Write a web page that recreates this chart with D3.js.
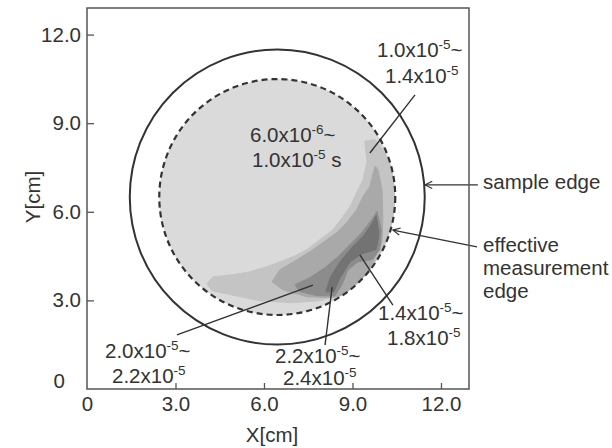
<!DOCTYPE html>
<html>
<head>
<meta charset="utf-8">
<script src="https://cdn.jsdelivr.net/npm/d3@7"></script>
<style>
  body { margin: 0; background: #fff; }
  svg { display: block; font-family: "Liberation Sans", Arial, sans-serif; }
  .tick text { fill: #333; font-size: 20.5px; }
  .ann { fill: #333; font-size: 20.5px; }
</style>
</head>
<body>
<svg width="612" height="448"></svg>
<script>
'use strict';

// axis ticks
var xTicks = [0, 3, 6, 9, 12];
var yTicks = [0, 3, 6, 9, 12];
var tickLabels = ['0', '3.0', '6.0', '9.0', '12.0'];

// sample edge / effective measurement edge (cm)
var circleCenter = [6.45, 6.5];
var sampleRadius = 5.0;
var effectiveRadius = 4.0;

// contour bands (relaxation time, s), outlines in cm
var bandNames = ['1.0-1.4e-5', '1.4-1.8e-5', '2.0-2.2e-5', '2.2-2.4e-5'];
var bandA = [[9.42, 8.39], [9.49, 7.67], [9.36, 7.10], [9.15, 6.66], [8.92, 6.18], [8.68, 5.84],
  [8.34, 5.40], [7.90, 5.06], [7.46, 4.72], [6.98, 4.48], [6.54, 4.31], [6.10, 4.14], [5.53, 3.97],
  [4.95, 3.87], [4.27, 3.80], [4.07, 3.57], [4.24, 3.33], [5.02, 3.16], [5.86, 2.99], [6.88, 2.92],
  [7.90, 2.99], [8.85, 3.29], [9.49, 3.70], [9.93, 4.21], [10.20, 4.89], [10.45, 5.74], [10.45, 6.59],
  [10.35, 7.44], [10.07, 8.05], [9.76, 8.45]];
var bandB = [[9.76, 7.54], [9.59, 6.86], [9.36, 6.52], [9.15, 6.08], [8.81, 5.64], [8.47, 5.30],
  [8.00, 4.96], [7.56, 4.65], [7.12, 4.38], [6.54, 4.04], [6.27, 3.63], [6.64, 3.36], [7.46, 3.12],
  [8.34, 3.09], [8.92, 3.26], [9.36, 3.70], [9.69, 4.28], [10.00, 4.96], [10.03, 5.84], [10.00, 6.76],
  [9.86, 7.44]];
var bandD = [[9.83, 6.01], [9.97, 5.40], [9.93, 4.72], [9.66, 4.38], [9.19, 4.31], [8.85, 4.04],
  [8.64, 3.53], [8.41, 3.16], [7.83, 3.16], [7.22, 3.29], [7.05, 3.53], [7.56, 3.77], [8.07, 4.11],
  [8.51, 4.48], [8.92, 4.89], [9.32, 5.30], [9.66, 5.74]];
var bandE = [[9.80, 5.87], [9.90, 5.23], [9.80, 4.72], [9.32, 4.58], [8.92, 4.31], [8.58, 3.77],
  [8.37, 3.29], [8.10, 3.29], [8.24, 3.77], [8.58, 4.31], [8.98, 4.79], [9.39, 5.20], [9.66, 5.60]];
var bands = [bandA, bandB, bandD, bandE];
var bandColors = ['#c4c4c4', '#a9a9a9', '#8c8c8c', '#737373'];

// leader lines [from, to] in cm
var leaders = [
  [[11.12, 9.96], [9.59, 7.99]],
  [[10.37, 2.84], [9.25, 4.54]],
  [[3.05, 1.83], [7.66, 3.52]],
  [[8.07, 1.49], [8.31, 3.45]]
];
var arrows = [
  [[13.25, 6.91], [11.46, 6.91]],
  [[13.22, 4.81], [10.37, 5.38]]
];

var svg = d3.select('svg');
var x = d3.scaleLinear().domain([0, 12.95]).range([87, 469]);
var y = d3.scaleLinear().domain([0, 12.9]).range([389, 8]);
var rpx = function (r) { return x(r) - x(0); };

var defs = svg.append('defs');
defs.append('clipPath').attr('id', 'eff')
  .append('circle')
  .attr('cx', x(circleCenter[0])).attr('cy', y(circleCenter[1]))
  .attr('r', rpx(effectiveRadius));
defs.append('marker').attr('id', 'arr')
  .attr('viewBox', '0 0 10 10').attr('refX', 9).attr('refY', 5)
  .attr('markerWidth', 9).attr('markerHeight', 9)
  .attr('markerUnits', 'userSpaceOnUse').attr('orient', 'auto')
  .append('path').attr('d', 'M1,1 L9,5 L1,9')
  .attr('fill', 'none').attr('stroke', '#333').attr('stroke-width', 1.3);

// base fill inside effective edge
svg.append('circle')
  .attr('cx', x(circleCenter[0])).attr('cy', y(circleCenter[1]))
  .attr('r', rpx(effectiveRadius))
  .attr('fill', '#dadada');

var line = d3.line().x(function (d) { return x(d[0]); }).y(function (d) { return y(d[1]); })
  .curve(d3.curveLinearClosed);

svg.append('g').attr('clip-path', 'url(#eff)')
  .selectAll('path').data(bands).enter().append('path')
  .attr('d', line)
  .attr('fill', function (d, i) { return bandColors[i]; })
  .attr('stroke', function (d, i) { return bandColors[i]; })
  .attr('stroke-width', 1);

// edges
svg.append('circle')
  .attr('cx', x(circleCenter[0])).attr('cy', y(circleCenter[1]))
  .attr('r', rpx(effectiveRadius))
  .attr('fill', 'none').attr('stroke', '#333').attr('stroke-width', 2.2)
  .attr('stroke-dasharray', '6,4');
svg.append('circle')
  .attr('cx', x(circleCenter[0])).attr('cy', y(circleCenter[1]))
  .attr('r', rpx(sampleRadius))
  .attr('fill', 'none').attr('stroke', '#333').attr('stroke-width', 2);

// leaders and arrows
svg.append('g').selectAll('line').data(leaders).enter().append('line')
  .attr('x1', function (d) { return x(d[0][0]); }).attr('y1', function (d) { return y(d[0][1]); })
  .attr('x2', function (d) { return x(d[1][0]); }).attr('y2', function (d) { return y(d[1][1]); })
  .attr('stroke', '#333').attr('stroke-width', 1.4);
svg.append('g').selectAll('line').data(arrows).enter().append('line')
  .attr('x1', function (d) { return x(d[0][0]); }).attr('y1', function (d) { return y(d[0][1]); })
  .attr('x2', function (d) { return x(d[1][0]); }).attr('y2', function (d) { return y(d[1][1]); })
  .attr('stroke', '#333').attr('stroke-width', 1.4)
  .attr('marker-end', 'url(#arr)');

// frame
svg.append('rect').attr('x', x(0)).attr('y', y(12.9))
  .attr('width', x(12.95) - x(0)).attr('height', y(0) - y(12.9))
  .attr('fill', 'none').attr('stroke', '#555').attr('stroke-width', 1.5);

// axes
var fmt = function (d) { return tickLabels[xTicks.indexOf(d)]; };
var gx = svg.append('g').attr('transform', 'translate(0,' + y(0) + ')')
  .call(d3.axisBottom(x).tickValues(xTicks).tickFormat(fmt).tickSizeInner(-6).tickSizeOuter(0).tickPadding(7));
var gy = svg.append('g').attr('transform', 'translate(' + x(0) + ',0)')
  .call(d3.axisLeft(y).tickValues(yTicks).tickFormat(fmt).tickSizeInner(-7).tickSizeOuter(0).tickPadding(6));
[gx, gy].forEach(function (g) {
  g.select('.domain').remove();
  g.selectAll('.tick line').attr('stroke', '#555').attr('stroke-width', 1.3);
  g.attr('font-family', null).attr('font-size', null);
});
gx.selectAll('.tick').filter(function (d) { return d === 0; }).select('line').remove();
gy.selectAll('.tick').filter(function (d) { return d === 0; })
  .select('text').attr('x', -22).attr('dy', '-0.05em');
gy.selectAll('.tick').filter(function (d) { return d === 0; }).select('line').remove();

svg.append('text').attr('class', 'ann').attr('x', 272).attr('y', 442)
  .attr('text-anchor', 'middle').text('X[cm]');
svg.append('text').attr('class', 'ann')
  .attr('transform', 'translate(40,197) rotate(-90)')
  .attr('text-anchor', 'middle').text('Y[cm]');

// annotations: [x, baseline, base, superscript, tail]
var notes = [
  [250, 142, '6.0x10', '-6', '~'], [252, 167, '1.0x10', '-5', ' s'],
  [377, 57, '1.0x10', '-5', '~'], [385, 83, '1.4x10', '-5', ''],
  [378, 320, '1.4x10', '-5', '~'], [387, 345, '1.8x10', '-5', ''],
  [105, 358, '2.0x10', '-5', '~'], [112, 383, '2.2x10', '-5', ''],
  [275, 363, '2.2x10', '-5', '~'], [283, 385, '2.4x10', '-5', '']
];
notes.forEach(function (n) {
  var t = svg.append('text').attr('class', 'ann').attr('x', n[0]).attr('y', n[1]);
  t.append('tspan').text(n[2]);
  t.append('tspan').attr('dy', -8).style('font-size', '13.5px').text(n[3]);
  if (n[4]) t.append('tspan').attr('dy', 8).text(n[4]);
});
var words = [[483, 189, 'sample edge'], [483, 252, 'effective'], [483, 275, 'measurement'], [483, 298, 'edge']];
svg.selectAll('.word').data(words).enter().append('text')
  .attr('class', 'ann word')
  .attr('x', function (d) { return d[0]; }).attr('y', function (d) { return d[1]; })
  .text(function (d) { return d[2]; });
</script>
</body>
</html>
